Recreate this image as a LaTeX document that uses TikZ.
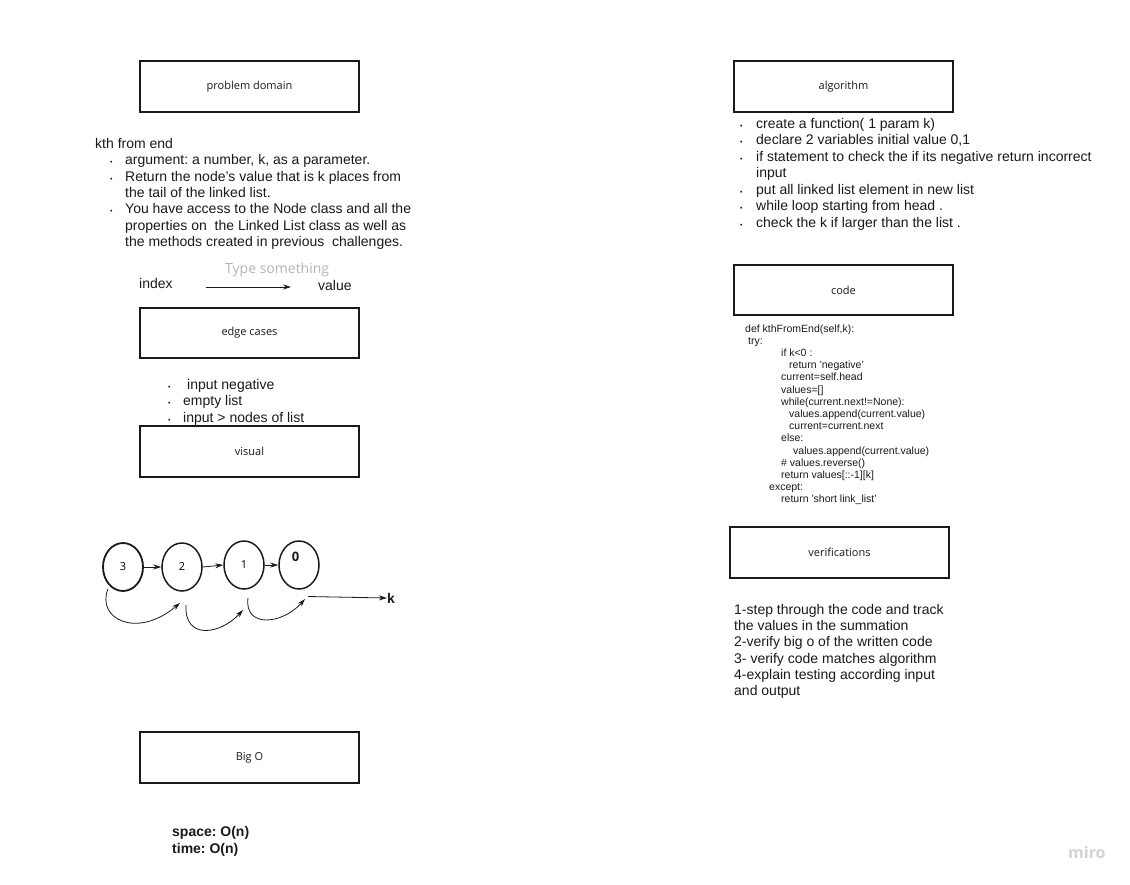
\documentclass[tikz,border=0pt]{standalone}
\usepackage{fontspec}
\setmainfont{Liberation Sans}
\newfontfamily\osans{Open Sans}
\usetikzlibrary{arrows.meta,shapes.geometric}
\frenchspacing
\definecolor{ink}{HTML}{1A1A1A}
\definecolor{hint}{HTML}{B5B5B5}
\definecolor{logo}{HTML}{D2D2DA}
\tikzset{
  box/.style={draw=ink, line width=1.4pt, inner sep=0pt},
  boxlabel/.style={font=\osans\fontsize{11}{13}\selectfont, text=ink},
  txt/.style={anchor=base west, inner sep=0pt, font=\fontsize{14}{16}\selectfont, text=ink},
  bul/.style={anchor=base west, inner sep=0pt, font=\fontsize{7}{8}\selectfont, text=ink},
  codeln/.style={anchor=base west, inner sep=0pt, font=\fontsize{10.5}{12}\selectfont, text=ink},
  circ/.style={draw=ink, ellipse, line width=1.5pt, minimum width=40pt, minimum height=48pt, inner sep=0pt, font=\osans\fontsize{11}{13}\selectfont},
  arr/.style={-{Stealth[length=8pt,width=5pt]}, line width=0.8pt, draw=ink},
}
\begin{document}
\begin{tikzpicture}[x=1pt,y=-1pt]
\useasboundingbox (0,0) rectangle (1130,884);
\fill[white] (0,0) rectangle (1130,884);

% boxes
\draw[box] (140,61) rectangle (359,112);
\node[boxlabel] (pd) at (249.5,86.5) {problem domain};
\draw[box] (734,61) rectangle (953,112);
\node[boxlabel] (al) at (843.5,86.5) {algorithm};
\draw[box] (734,265) rectangle (953,315);
\node[boxlabel] (cd) at (843.5,290) {code};
\draw[box] (140,308) rectangle (359,358);
\node[boxlabel] (ec) at (249.5,333) {edge cases};
\draw[box] (140,426) rectangle (359,477);
\node[boxlabel] (vs) at (249.5,451.5) {visual};
\draw[box] (730,527) rectangle (949,578);
\node[boxlabel] (vf) at (839.5,552.5) {verifications};
\draw[box] (140,732) rectangle (359,783);
\node[boxlabel] (bo) at (249.5,757.5) {Big O};

% problem domain text
\node[txt] (p0) at (95,148.5) {kth from end};
\node[bul] (pb1) at (110,164.8) {\textbullet};
\node[txt] (p1) at (125,164.8) {argument: a number, k, as a parameter.};
\node[bul] (pb2) at (110,181.1) {\textbullet};
\node[txt] (p2) at (125,181.1) {Return the node’s value that is k places from};
\node[txt] (p3) at (125,197.4) {the tail of the linked list.};
\node[bul] (pb3) at (110,213.7) {\textbullet};
\node[txt] (p4) at (125,213.7) {You have access to the Node class and all the};
\node[txt] (p5) at (125,230) {properties on\ \ the Linked List class as well as};
\node[txt] (p6) at (125,246.3) {the methods created in previous\ \ challenges.};

% index -> value
\node[txt] (idx) at (139,288) {index};
\node[txt] (val) at (318,290) {value};
\node[txt, text=hint, font=\osans\fontsize{14}{16}\selectfont] (ts) at (225,273) {Type something};
\coordinate (ia) at (206,287);
\coordinate (ib) at (291,287);
\draw[arr] (ia) -- (ib);

% edge cases
\node[bul] (eb1) at (168,389) {\textbullet};
\node[txt] (e1) at (187,389) {input negative};
\node[bul] (eb2) at (168,405.5) {\textbullet};
\node[txt] (e2) at (183,405.5) {empty list};
\node[bul] (eb3) at (168,422) {\textbullet};
\node[txt] (e3) at (183,422) {input > nodes of list};

% visual linked list
\node[circ, line width=1.8pt] (n3) at (123,567) {3};
\node[circ] (n2) at (182,567) {2};
\node[circ] (n1) at (244,565) {1};
\node[circ] (n0) at (299,565) {};
\node[font=\osans\bfseries\fontsize{13}{15}\selectfont, text=ink, inner sep=0pt] (n0t) at (295.5,557) {0};
\draw[arr] (n3.east) -- (n2.west);
\draw[arr] (n2.east) -- (n1.west);
\draw[arr] (n1.east) -- (n0.west);
\node[font=\bfseries\fontsize{14}{16}\selectfont, text=ink, inner sep=0pt, anchor=west] (k) at (387,598) {k};
\coordinate (ks) at (308,596.5);
\draw[arr] (ks) -- (k.west);
\coordinate (c1a) at (108,589);
\coordinate (c1b) at (180,603);
\draw[arr] (c1a) .. controls (96,618) and (136,640) .. (c1b);
\coordinate (c2a) at (186,605);
\coordinate (c2b) at (243,610);
\draw[arr] (c2a) .. controls (184,640) and (220,635) .. (c2b);
\coordinate (c3a) at (248,598);
\coordinate (c3b) at (305,599);
\draw[arr] (c3a) .. controls (244,628) and (282,625) .. (c3b);

% algorithm bullets
\node[bul] (ab1) at (740,128) {\textbullet};
\node[txt] (a1) at (756,128) {create a function( 1 param k)};
\node[bul] (ab2) at (740,144.5) {\textbullet};
\node[txt] (a2) at (756,144.5) {declare 2 variables initial value 0,1};
\node[bul] (ab3) at (740,161) {\textbullet};
\node[txt] (a3) at (756,161) {if statement to check the if its negative return incorrect};
\node[txt] (a4) at (756,177.3) {input};
\node[bul] (ab4) at (740,194) {\textbullet};
\node[txt] (a5) at (756,194) {put all linked list element in new list};
\node[bul] (ab5) at (740,210.5) {\textbullet};
\node[txt] (a6) at (756,210.5) {while loop starting from head .};
\node[bul] (ab6) at (740,227) {\textbullet};
\node[txt] (a7) at (756,227) {check the k if larger than the list .};

% code
\node[codeln] (k1) at (745,332) {def kthFromEnd(self,k):};
\node[codeln] (k2) at (748,344.2) {try:};
\node[codeln] (k3) at (781,356.4) {if k<0 :};
\node[codeln] (k4) at (789,368.6) {return 'negative'};
\node[codeln] (k5) at (781,380.8) {current=self.head};
\node[codeln] (k6) at (781,393) {values=[]};
\node[codeln] (k7) at (781,405.2) {while(current.next!=None):};
\node[codeln] (k8) at (789,417.4) {values.append(current.value)};
\node[codeln] (k9) at (789,429.6) {current=current.next};
\node[codeln] (k10) at (781,441.8) {else:};
\node[codeln] (k11) at (793,454) {values.append(current.value)};
\node[codeln] (k12) at (781,466.2) {\# values.reverse()};
\node[codeln] (k13) at (781,478.4) {return values[::-1][k]};
\node[codeln] (k14) at (769,490.6) {except:};
\node[codeln] (k15) at (781,502.8) {return 'short link\_list'};

% verifications
\node[txt] (v1) at (734,614) {1-step through the code and track};
\node[txt] (v2) at (734,630.3) {the values in the summation};
\node[txt] (v3) at (734,646.6) {2-verify big o of the written code};
\node[txt] (v4) at (734,663) {3- verify code matches algorithm};
\node[txt] (v5) at (734,679.3) {4-explain testing according input};
\node[txt] (v6) at (734,695.6) {and output};

% big O
\node[txt, font=\bfseries\fontsize{14}{16}\selectfont] (s1) at (172,836.5) {space: O(n)};
\node[txt, font=\bfseries\fontsize{14}{16}\selectfont] (s2) at (172,853.5) {time: O(n)};

% logo
\node[txt, text=logo, font=\osans\bfseries\fontsize{16}{18}\selectfont] (logo) at (1068,858) {miro};
\end{tikzpicture}
\end{document}
